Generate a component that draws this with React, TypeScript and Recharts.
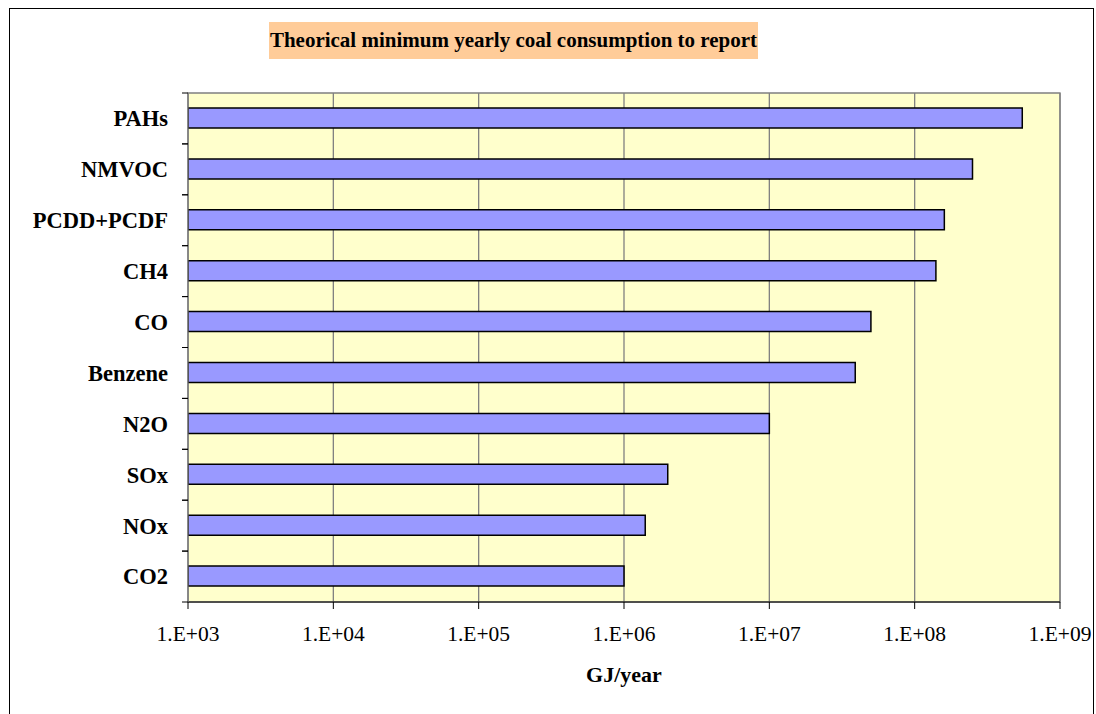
import {
  Bar,
  BarChart,
  CartesianGrid,
  Label,
  ReferenceArea,
  XAxis,
  YAxis,
} from "recharts";

const pollutants = ["PAHs", "NMVOC", "PCDD+PCDF", "CH4", "CO", "Benzene", "N2O", "SOx", "NOx", "CO2"];
const minConsumption = [5.5e8, 2.5e8, 1.6e8, 1.4e8, 5.0e7, 3.9e7, 1.0e7, 2.0e6, 1.4e6, 1.0e6];
const decadeTicks = [1e3, 1e4, 1e5, 1e6, 1e7, 1e8, 1e9];

const data = pollutants.map((name, i) => ({ name, value: minConsumption[i] }));

const serif = "'Liberation Serif', 'Times New Roman', serif";

const formatSci = (v: number) => {
  const exp = Math.round(Math.log10(v));
  return `1.E+${String(exp).padStart(2, "0")}`;
};

function CategoryTick(props: any) {
  const { x, y, payload } = props;
  const half = payload.offset ?? 0;
  const axisX = x + 20;
  return (
    <g>
      <line x1={axisX - 6} x2={axisX} y1={y - half} y2={y - half} stroke="#000" />
      <line x1={axisX - 6} x2={axisX} y1={y + half} y2={y + half} stroke="#000" />
      <text
        x={x}
        y={y}
        dy="0.35em"
        textAnchor="end"
        fontFamily={serif}
        fontWeight="bold"
        fontSize={22.5}
        fill="#000"
      >
        {payload.value}
      </text>
    </g>
  );
}

export default function App() {
  return (
    <div
      style={{
        position: "absolute",
        left: 0,
        top: 0,
        width: 1096,
        height: 714,
        overflow: "hidden",
        background: "#fff",
      }}
    >
      <div
        style={{
          position: "absolute",
          left: 9,
          top: 8,
          width: 1083,
          height: 760,
          border: "1px solid #000",
        }}
      />
      <div
        style={{
          position: "absolute",
          left: 269,
          top: 22,
          width: 489,
          height: 37,
          background: "#FFCC99",
          fontFamily: serif,
          fontWeight: "bold",
          fontSize: 21,
          lineHeight: "37px",
          textAlign: "center",
          color: "#000",
          whiteSpace: "nowrap",
        }}
      >
        Theorical minimum yearly coal consumption to report
      </div>
      <div style={{ position: "absolute", left: 0, top: 0 }}>
        <BarChart
          width={1096}
          height={714}
          data={data}
          layout="vertical"
          margin={{ top: 93, right: 36, bottom: 82, left: 0 }}
        >
          <CartesianGrid
            horizontal={false}
            fill="#FFFFCC"
            fillOpacity={1}
            stroke="#808080"
            strokeWidth={1.3}
          />
          <XAxis
            type="number"
            dataKey="value"
            scale="log"
            domain={[1e3, 1e9]}
            ticks={decadeTicks}
            allowDataOverflow
            tickFormatter={formatSci}
            height={30}
            tickSize={7}
            tickMargin={17}
            stroke="#000"
            tick={{ fontFamily: serif, fontSize: 21.5, fill: "#000" }}
          >
            <Label
              value="GJ/year"
              position="bottom"
              offset={34}
              style={{ fontFamily: serif, fontWeight: "bold", fontSize: 22, fill: "#000" }}
            />
          </XAxis>
          <YAxis
            type="category"
            dataKey="name"
            width={188}
            tickLine={false}
            tickSize={6}
            tickMargin={14}
            stroke="#808080"
            tick={<CategoryTick />}
            interval={0}
          />
          <ReferenceArea x1={1e3} x2={1e9} fill="none" stroke="#808080" strokeWidth={1.3} />
          <Bar
            dataKey="value"
            fill="#9999FF"
            stroke="#000"
            strokeWidth={1.5}
            barSize={20}
            isAnimationActive={false}
          />
        </BarChart>
      </div>
    </div>
  );
}
